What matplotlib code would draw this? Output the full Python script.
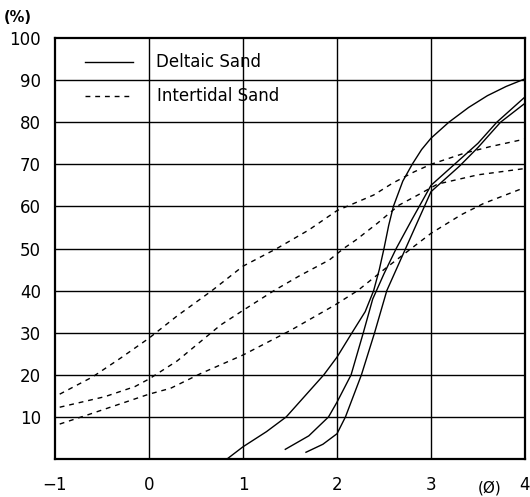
import matplotlib
matplotlib.use("Agg")
import matplotlib.pyplot as plt

# Deltaic Sand (solid) curves
deltaic_a_x = [0.83, 1.0, 1.25, 1.46, 1.66, 1.86, 2.0, 2.16, 2.3, 2.39, 2.45, 2.5, 2.55, 2.6, 2.7, 2.8, 2.9, 3.0, 3.19, 3.4, 3.6, 3.8, 4.0]
deltaic_a_y = [0, 2.9, 6.5, 10, 15, 20, 24.2, 30, 35, 40, 45, 50, 55.5, 60, 66, 70, 73.5, 76.2, 80, 83.5, 86.3, 88.5, 90.3]
deltaic_b_x = [1.45, 1.7, 1.91, 2.0, 2.15, 2.28, 2.38, 2.5, 2.63, 2.8, 3.0, 3.25, 3.5, 3.7, 4.0]
deltaic_b_y = [2.3, 5.5, 10, 13.5, 20, 30, 38, 44, 50, 57, 65, 70, 75, 80, 86]
deltaic_c_x = [1.67, 1.85, 2.0, 2.09, 2.26, 2.4, 2.53, 2.73, 3.0, 3.3, 3.5, 3.74, 4.0]
deltaic_c_y = [1.6, 3.5, 6, 10, 20, 30, 40, 50, 63.5, 69.5, 74, 80, 84.5]

# Intertidal Sand (dashed) curves
inter_a_x = [-0.95, -0.6, -0.3, 0, 0.3, 0.67, 1.0, 1.36, 1.7, 2.0, 2.39, 2.59, 2.82, 3.0, 3.35, 3.63, 4.0]
inter_a_y = [15.4, 19.5, 24, 28.7, 34, 40, 45.8, 50, 54.4, 59, 62.7, 65.5, 68.2, 70, 72.6, 74.2, 76]
inter_b_x = [-0.95, -0.47, -0.15, 0, 0.3, 0.76, 1.0, 1.33, 1.6, 1.92, 2.07, 2.2, 2.43, 2.66, 2.86, 3.07, 3.5, 4.0]
inter_b_y = [12.3, 14.8, 17.2, 19, 23.3, 31.8, 35.3, 40, 43.5, 47.3, 50, 52, 56, 60.3, 62.7, 65.3, 67.5, 69]
inter_c_x = [-0.95, -0.65, 0, 0.23, 0.55, 1.0, 1.51, 1.98, 2.22, 2.5, 2.79, 3.0, 3.32, 3.56, 4.0]
inter_c_y = [8.3, 10.5, 15.4, 16.8, 20.3, 24.7, 30.6, 36.6, 40, 45, 50, 53.6, 58, 60.7, 64.5]

x_ticks = [-1, 0, 1, 2, 3, 4]
x_tick_labels = ["\u22121", "0", "1", "2", "3", "4"]
y_ticks = [10, 20, 30, 40, 50, 60, 70, 80, 90, 100]
y_tick_labels = [str(v) for v in y_ticks]

legend_labels = ["Deltaic Sand", "Intertidal Sand"]

plt.rcParams['font.family'] = ['DejaVu Sans']
fig = plt.figure(figsize=(5.30, 4.97), dpi=100)
ax = fig.add_axes([55/530, 1 - 459/497, 470/530, 421/497])

ax.set_xlim(-1, 4)
ax.set_ylim(0, 100)

# grid
for gx in [0, 1, 2, 3]:
    ax.axvline(gx, color='black', lw=1.0, zorder=1)
for gy in y_ticks[:-1]:
    ax.axhline(gy, color='black', lw=1.0, zorder=1)

dash = (0, (3.5, 3.5))
for xs, ys in [(deltaic_a_x, deltaic_a_y), (deltaic_b_x, deltaic_b_y), (deltaic_c_x, deltaic_c_y)]:
    ax.plot(xs, ys, color='black', lw=1.0, zorder=3)
for xs, ys in [(inter_a_x, inter_a_y), (inter_b_x, inter_b_y), (inter_c_x, inter_c_y)]:
    ax.plot(xs, ys, color='black', lw=1.0, linestyle=dash, zorder=3)

# hand-drawn style legend inside plot
ax.plot([-0.68, -0.17], [94.3, 94.3], color='black', lw=1.0, zorder=3)
ax.plot([-0.68, -0.17], [86.2, 86.2], color='black', lw=1.0, linestyle=dash, zorder=3)
ax.text(0.07, 94.3, legend_labels[0], fontsize=12, va='center', ha='left')
ax.text(0.09, 86.2, legend_labels[1], fontsize=12, va='center', ha='left')

ax.set_xticks(x_ticks)
ax.set_xticklabels(x_tick_labels, fontsize=12)
ax.set_yticks(y_ticks)
ax.set_yticklabels(y_tick_labels, fontsize=12)
ax.tick_params(axis='y', length=0, pad=10)
ax.tick_params(axis='x', length=0, pad=12)

for s in ax.spines.values():
    s.set_linewidth(1.6)
    s.set_color('black')

fig.text(18/530, 1 - 18/497, "(%)", fontsize=10.5, fontweight='bold', ha='center', va='center')
fig.text(490/530, 1 - 488/497, "(\u00d8)", fontsize=11, ha='center', va='center')

fig.savefig("out.png", dpi=100)
